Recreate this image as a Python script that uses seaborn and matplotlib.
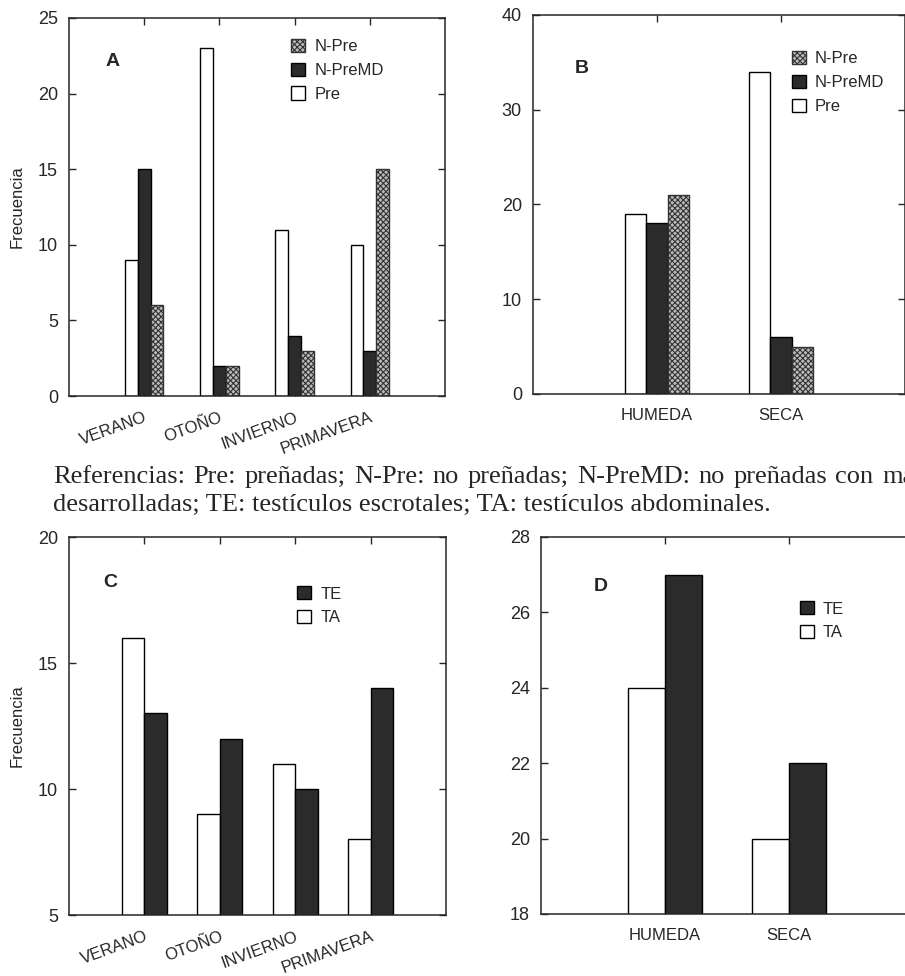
import pandas as pd
import matplotlib
matplotlib.use("Agg")
import matplotlib.pyplot as plt
from matplotlib.patches import Patch
import seaborn as sns

# Datos
estaciones = ['VERANO', 'OTOÑO', 'INVIERNO', 'PRIMAVERA']
epocas = ['HUMEDA', 'SECA']

a_pre = [9, 23, 11, 10]
a_npremd = [15, 2, 4, 3]
a_npre = [6, 2, 3, 15]

b_pre = [19, 34]
b_npremd = [18, 6]
b_npre = [21, 5]

c_ta = [16, 9, 11, 8]
c_te = [13, 12, 10, 14]

d_ta = [24, 20]
d_te = [27, 22]

grupos_h = ['Pre', 'N-PreMD', 'N-Pre']
grupos_m = ['TA', 'TE']

linea1 = 'Referencias: Pre: preñadas; N-Pre: no preñadas; N-PreMD: no preñadas con mamas'
linea2 = 'desarrolladas; TE: testículos escrotales; TA: testículos abdominales.'

sns.set_style("ticks")
plt.rcParams['font.family'] = ['Liberation Sans', 'DejaVu Sans']
plt.rcParams['hatch.linewidth'] = 0.8

OSCURO = '#2b2b2b'
TRAMA = '#bcbcbc'
colores_h = {'Pre': 'white', 'N-PreMD': OSCURO, 'N-Pre': TRAMA}
colores_m = {'TA': 'white', 'TE': OSCURO}


def tabla(cats, series, nombres):
    filas = []
    for nombre, vals in zip(nombres, series):
        for c, v in zip(cats, vals):
            filas.append({'cat': c, 'valor': v, 'grupo': nombre})
    return pd.DataFrame(filas)


def panel(ax, df, cats, nombres, colores, ancho, ylim, yticks, letra, letra_pos,
          leyenda_orden, leyenda_pos, rotar, ylabel):
    sns.barplot(data=df, x='cat', y='valor', hue='grupo', order=cats,
                hue_order=nombres, palette=colores, width=ancho, saturation=1,
                edgecolor='black', linewidth=1, legend=False, ax=ax)
    for nombre, cont in zip(nombres, ax.containers):
        if nombre == 'N-Pre':
            for p in cont:
                p.set_hatch('xxxxxx')
                p.set_edgecolor('#333333')
    ax.set_xlim(-1, len(cats))
    ax.set_ylim(*ylim)
    ax.set_yticks(yticks)
    ax.set_xlabel('')
    ax.set_ylabel(ylabel, fontsize=12)
    ax.yaxis.set_label_coords(-0.118, 0.5)
    for s in ax.spines.values():
        s.set_visible(True)
        s.set_linewidth(1.1)
    ax.tick_params(direction='in', top=True, right=True, length=5, width=1)
    ax.tick_params(axis='y', labelsize=13, pad=8)
    if rotar:
        ax.set_xticks(range(len(cats)))
        ax.set_xticklabels(cats, rotation=20, ha='right', rotation_mode='anchor', fontsize=12)
        ax.tick_params(axis='x', pad=10)
    else:
        ax.tick_params(axis='x', labelsize=12, pad=10)
    ax.text(letra_pos[0], letra_pos[1], letra, transform=ax.transAxes,
            fontsize=14, fontweight='bold', ha='center', va='center')
    handles = [Patch(facecolor=colores[n], edgecolor='#333333' if n == 'N-Pre' else 'black',
                     hatch='xxxxxx' if n == 'N-Pre' else None, linewidth=1)
               for n in leyenda_orden]
    ax.legend(handles, leyenda_orden, loc='upper left', bbox_to_anchor=leyenda_pos,
              frameon=False, fontsize=12, handlelength=0.85, handleheight=0.85,
              handletextpad=0.55, labelspacing=0.5, borderaxespad=0, borderpad=0)


fig = plt.figure(figsize=(9.05, 9.76), dpi=100)
W, H = 905, 976


def caja(x0, y0, x1, y1):
    return fig.add_axes([x0 / W, 1 - y1 / H, (x1 - x0) / W, (y1 - y0) / H])


ax_a = caja(69, 18, 445, 396)
ax_b = caja(533, 15, 905, 394)
ax_c = caja(69, 537, 446, 915)
ax_d = caja(541, 537, 913, 914)

panel(ax_a, tabla(estaciones, [a_pre, a_npremd, a_npre], grupos_h), estaciones,
      grupos_h, colores_h, 0.51, (0, 25), range(0, 26, 5), 'A', (0.115, 0.885),
      ['N-Pre', 'N-PreMD', 'Pre'], (0.59, 0.945), True, 'Frecuencia')
panel(ax_b, tabla(epocas, [b_pre, b_npremd, b_npre], grupos_h), epocas,
      grupos_h, colores_h, 0.51, (0, 40), range(0, 41, 10), 'B', (0.13, 0.86),
      ['N-Pre', 'N-PreMD', 'Pre'], (0.695, 0.905), False, '')
panel(ax_c, tabla(estaciones, [c_ta, c_te], grupos_m), estaciones,
      grupos_m, colores_m, 0.6, (5, 20), range(5, 21, 5), 'C', (0.11, 0.88),
      ['TE', 'TA'], (0.605, 0.87), True, 'Frecuencia')
panel(ax_d, tabla(epocas, [d_ta, d_te], grupos_m), epocas,
      grupos_m, colores_m, 0.6, (18, 28), range(18, 29, 2), 'D', (0.16, 0.87),
      ['TE', 'TA'], (0.695, 0.83), False, '')

# Texto de referencias (primera linea justificada, cortada en el borde como el original)
serif = ['Liberation Serif', 'DejaVu Serif']
tam = 19
fig.canvas.draw()
rend = fig.canvas.get_renderer()
palabras = linea1.split(' ')
anchos = []
for p in palabras:
    t = fig.text(0, 0, p, family=serif, fontsize=tam)
    anchos.append(t.get_window_extent(rend).width)
    t.remove()
x_ini, x_ult = 53, 882
hueco = (x_ult - x_ini - sum(anchos[:-1])) / (len(palabras) - 1)
x = x_ini
for p, w in zip(palabras, anchos):
    fig.text(x / W, 1 - 483 / H, p, family=serif, fontsize=tam, ha='left', va='baseline')
    x += w + hueco
fig.text(x_ini / W, 1 - 511 / H, linea2, family=serif, fontsize=tam, ha='left', va='baseline')

plt.savefig("out.png", dpi=100)
